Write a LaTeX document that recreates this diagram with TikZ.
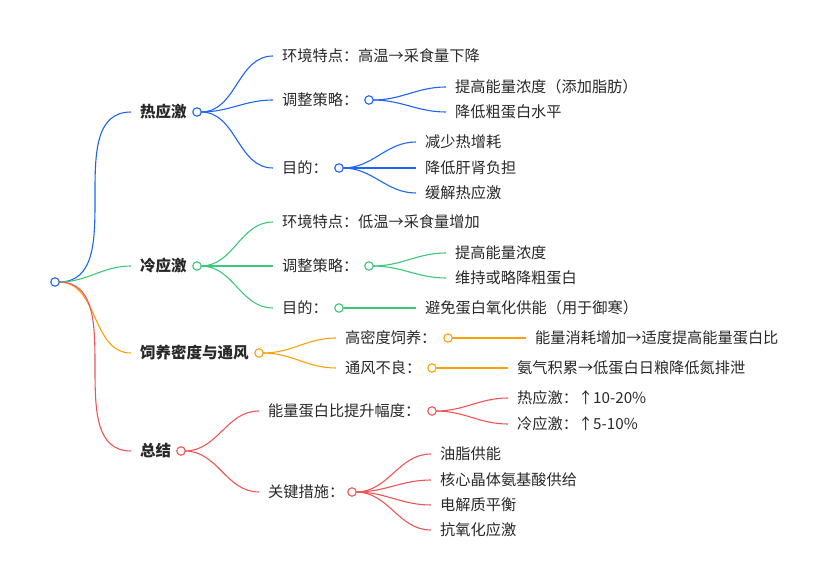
\documentclass[tikz,border=0pt]{standalone}
\usepackage{fontspec}
\setmainfont{Noto Sans CJK SC}
\definecolor{mblue}{RGB}{30,100,245}
\definecolor{mgreen}{RGB}{60,200,120}
\definecolor{morange}{RGB}{250,160,10}
\definecolor{mred}{RGB}{240,85,85}
\definecolor{txt}{RGB}{40,40,40}
\tikzset{
  dot/.style={circle, line width=1.1pt, fill=white, inner sep=0pt, minimum size=8.5pt},
  lbl/.style={anchor=west, inner sep=0pt, text=txt, font=\fontsize{15.2}{17}\selectfont},
  top/.style={lbl, font=\fontsize{15.5}{17}\selectfont\bfseries},
  link/.style={line width=1.1pt, out=0, in=180},
}
\begin{document}
\begin{tikzpicture}[x=1pt, y=-1pt]
  \useasboundingbox (0,0) rectangle (827,569);

  % first level
  \node[top] (heat) at (140,112) {热应激};
  \node[top] (cold) at (140,266) {冷应激};
  \node[top] (feed) at (140,353) {饲养密度与通风};
  \node[top] (sum) at (140,451) {总结};

  % heat stress
  \node[lbl] (h1) at (282,56) {环境特点：高温→采食量下降};
  \node[lbl] (h2) at (282,100) {调整策略：};
  \node[lbl] (h3) at (282,168) {目的：};
  \node[lbl] (h21) at (455,87) {提高能量浓度（添加脂肪）};
  \node[lbl] (h22) at (455,112) {降低粗蛋白水平};
  \node[lbl] (h31) at (425,142) {减少热增耗};
  \node[lbl] (h32) at (425,168) {降低肝肾负担};
  \node[lbl] (h33) at (425,193) {缓解热应激};

  % cold stress
  \node[lbl] (c1) at (282,222) {环境特点：低温→采食量增加};
  \node[lbl] (c2) at (282,266) {调整策略：};
  \node[lbl] (c3) at (282,308) {目的：};
  \node[lbl] (c21) at (455,253) {提高能量浓度};
  \node[lbl] (c22) at (455,278) {维持或略降粗蛋白};
  \node[lbl] (c31) at (425,308) {避免蛋白氧化供能（用于御寒）};

  % density and ventilation
  \node[lbl] (f1) at (345,338) {高密度饲养：};
  \node[lbl] (f2) at (345,368) {通风不良：};
  \node[lbl] (f11) at (535,338) {能量消耗增加→适度提高能量蛋白比};
  \node[lbl] (f21) at (517,368) {氨气积累→低蛋白日粮降低氮排泄};

  % summary
  \node[lbl] (s1) at (268,411) {能量蛋白比提升幅度：};
  \node[lbl] (s2) at (268,492) {关键措施：};
  \node[lbl] (s11) at (517,398) {热应激：↑10-20\%};
  \node[lbl] (s12) at (517,424) {冷应激：↑5-10\%};
  \node[lbl] (s21) at (440,454) {油脂供能};
  \node[lbl] (s22) at (440,480) {核心晶体氨基酸供给};
  \node[lbl] (s23) at (440,505) {电解质平衡};
  \node[lbl] (s24) at (440,530) {抗氧化应激};

  % circles
  \coordinate (rootc) at (55,282);
  \coordinate (heatc) at (197,112);
  \coordinate (coldc) at (197,266);
  \coordinate (feedc) at (259,353);
  \coordinate (sumc) at (181,451);
  \coordinate (h2c) at (369,100);
  \coordinate (h3c) at (339,168);
  \coordinate (c2c) at (369,266);
  \coordinate (c3c) at (339,308);
  \coordinate (f1c) at (448,338);
  \coordinate (f2c) at (432,368);
  \coordinate (s1c) at (432,411);
  \coordinate (s2c) at (352,492);

  % connectors
  \foreach \a/\b/\c in {rootc/heat/mblue, rootc/cold/mgreen, rootc/feed/morange, rootc/sum/mred,
      heatc/h1/mblue, heatc/h2/mblue, heatc/h3/mblue, h2c/h21/mblue, h2c/h22/mblue,
      h3c/h31/mblue, h3c/h32/mblue, h3c/h33/mblue,
      coldc/c1/mgreen, coldc/c2/mgreen, coldc/c3/mgreen, c2c/c21/mgreen, c2c/c22/mgreen, c3c/c31/mgreen,
      feedc/f1/morange, feedc/f2/morange, f1c/f11/morange, f2c/f21/morange,
      sumc/s1/mred, sumc/s2/mred, s1c/s11/mred, s1c/s12/mred,
      s2c/s21/mred, s2c/s22/mred, s2c/s23/mred, s2c/s24/mred}
    \draw[link, \c] ([xshift=4pt]\a) to ([xshift=-9pt]\b.west);

  \node[dot, draw=mblue] (root) at (rootc) {};
  \foreach \p/\c in {heatc/mblue, h2c/mblue, h3c/mblue, coldc/mgreen, c2c/mgreen, c3c/mgreen,
      feedc/morange, f1c/morange, f2c/morange, sumc/mred, s1c/mred, s2c/mred}
    \node[dot, draw=\c] at (\p) {};
\end{tikzpicture}
\end{document}
